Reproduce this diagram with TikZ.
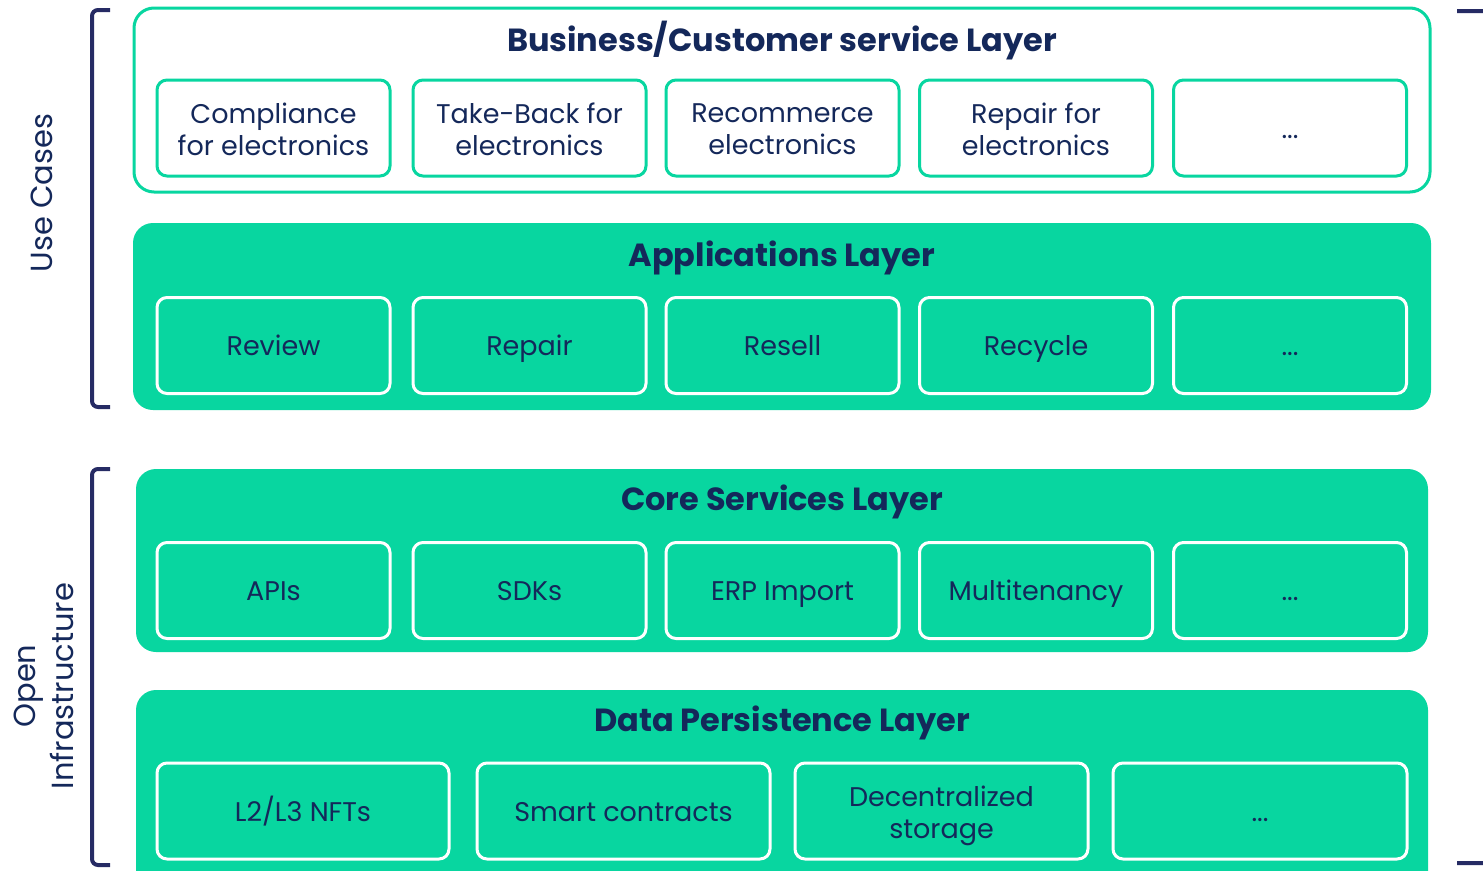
\documentclass[tikz,border=0pt]{standalone}
\usepackage{fontspec}
\setmainfont{Poppins}
\definecolor{grn}{HTML}{08D6A0}
\definecolor{navy}{HTML}{14285A}
\definecolor{brk}{HTML}{262B64}
\newcommand\boxstrut{\rule[-9pt]{0pt}{38pt}}
\begin{document}
\begin{tikzpicture}[x=1pt,y=-1pt,
  layerw/.style={draw=grn,line width=3pt,fill=white,rounded corners=20pt},
  layerg/.style={fill=grn,rounded corners=20pt},
  title/.style={text=navy,font=\fontsize{32}{38}\selectfont\bfseries},
  boxtext/.style={align=center,text=navy,font=\fontsize{27}{32}\selectfont,inner sep=0pt,execute at begin node={\boxstrut},execute at end node={\boxstrut}},
  boxbase/.style={boxtext,line width=3pt,rounded corners=10pt,minimum width=233pt,minimum height=96pt},
  ubox/.style={boxbase,draw=grn,fill=white},
  gbox/.style={boxbase,draw=white},
  side/.style={text=navy,font=\fontsize{30.5}{38}\selectfont,align=center,rotate=90},
  bracket/.style={draw=brk,line width=4pt,rounded corners=6pt}
]
\useasboundingbox (0,0) rectangle (1483,870);
\clip (0,0) rectangle (1483,870);
% brackets
\draw[bracket] (110,10) -- (92,10) -- (92,407) -- (110,407);
\draw[bracket] (110,469) -- (92,469) -- (92,865) -- (110,865);
\draw[bracket] (1457,11) -- (1492,11) -- (1492,863) -- (1457,863);
\node[side] (uc) at (42,193) {Use Cases};
\node[side] (oi) at (44,686) {Open\\Infrastructure};
% business layer
\draw[layerw] (134,8) rectangle (1430,192);
\node[title] (t1) at (782,41) {Business/Customer service Layer};
\node[ubox] (b1) at (273.5,128) {};
\node[boxtext] (b1t) at (273.5,134) {Compliance\\for electronics};
\node[ubox] (b2) at (529.5,128) {};
\node[boxtext] (b2t) at (529.5,134) {Take-Back for\\electronics};
\node[ubox] (b3) at (782.5,128) {};
\node[boxtext] (b3t) at (782.5,134) {Recommerce\\electronics};
\node[ubox] (b4) at (1036,128) {};
\node[boxtext] (b4t) at (1036,134) {Repair for\\electronics};
\node[ubox] (b5) at (1290,128) {...};
% applications
\fill[layerg] (133,223) rectangle (1431,410);
\node[title] (t2) at (782,258) {Applications Layer};
\node[gbox] (a1) at (273.5,345.5) {Review};
\node[gbox] (a2) at (529.5,345.5) {Repair};
\node[gbox] (a3) at (782.5,345.5) {Resell};
\node[gbox] (a4) at (1036,345.5) {Recycle};
\node[gbox] (a5) at (1290,345.5) {...};
% core services
\fill[layerg] (136,469) rectangle (1428,652);
\node[title] (t3) at (782,502) {Core Services Layer};
\node[gbox] (c1) at (273.5,590.5) {APIs};
\node[gbox] (c2) at (529.5,590.5) {SDKs};
\node[gbox] (c3) at (782.5,590.5) {ERP Import};
\node[gbox] (c4) at (1036,590.5) {Multitenancy};
\node[gbox] (c5) at (1290,590.5) {...};
% data persistence
\fill[layerg] (136,690) rectangle (1428,900);
\node[title] (t4) at (782,723) {Data Persistence Layer};
\node[gbox,minimum width=292pt] (d1) at (303,811) {L2/L3 NFTs};
\node[gbox,minimum width=293pt] (d2) at (623.5,811) {Smart contracts};
\node[gbox,minimum width=293pt] (d3) at (941.5,811) {};
\node[boxtext] (d3t) at (941.5,817) {Decentralized\\storage};
\node[gbox,minimum width=294pt] (d4) at (1260,811) {...};
\end{tikzpicture}
\end{document}
